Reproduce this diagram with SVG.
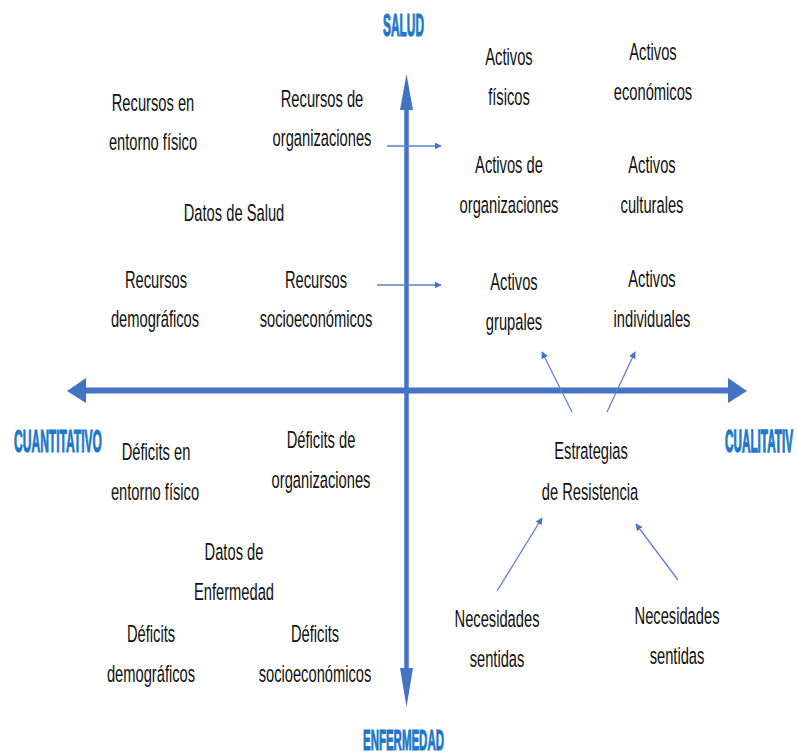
<svg xmlns="http://www.w3.org/2000/svg" width="797" height="755" viewBox="0 0 797 755">
<style>
.t{font-family:"Liberation Sans",Arial,sans-serif;font-size:14.7px;fill:#111;text-anchor:middle}
.ax{font-family:"Liberation Sans",Arial,sans-serif;font-weight:bold;font-size:13px;fill:#1f77c9;stroke:#1f77c9;stroke-width:0.5}
.axis{stroke:#4472c4;fill:none}
.head{fill:#4472c4}
.thin{stroke:#5a82cc;stroke-width:1.3;fill:none;marker-end:url(#ah)}
</style>
<defs>
<marker id="ah" viewBox="0 0 10 10" refX="9" refY="5" markerWidth="7" markerHeight="7" orient="auto" markerUnits="userSpaceOnUse">
<path d="M0,0 L10,5 L0,10 z" fill="#4472c4"/>
</marker>
</defs>
<rect width="797" height="755" fill="#fff"/>
<g id="connectors">
<line class="axis" x1="406.5" y1="105" x2="406.5" y2="672" stroke-width="4.5"/>
<polygon class="head" points="406.5,74 413,110 400,110"/>
<polygon class="head" points="406.5,707 400,668 413,668"/>
<line class="axis" x1="82" y1="390.5" x2="731" y2="390.5" stroke-width="6"/>
<polygon class="head" points="67,391 86,378 86,403"/>
<polygon class="head" points="747,391 728,378 728,403"/>
<line class="thin" x1="387" y1="146" x2="441" y2="146"/>
<line class="thin" x1="377" y1="285" x2="441" y2="285"/>
<line class="thin" x1="572" y1="412" x2="542" y2="352"/>
<line class="thin" x1="607" y1="412" x2="635" y2="352"/>
<line class="thin" x1="497" y1="591" x2="542" y2="518"/>
<line class="thin" x1="678" y1="580" x2="636" y2="524"/>
</g>
<g id="salud"><text class="ax" transform="translate(383,36) scale(1,2.4)" textLength="41" lengthAdjust="spacingAndGlyphs">SALUD</text></g>
<g id="enfermedad"><text class="ax" transform="translate(363,750) scale(1,2.3)" textLength="81" lengthAdjust="spacingAndGlyphs">ENFERMEDAD</text></g>
<g id="cuantitativo"><text class="ax" transform="translate(14,452) scale(1,2.4)" textLength="88" lengthAdjust="spacingAndGlyphs">CUANTITATIVO</text></g>
<g id="cualitativo"><text class="ax" style="font-size:11.4px" transform="translate(725,452) scale(1,2.74)" textLength="68" lengthAdjust="spacingAndGlyphs">CUALITATIV</text></g>
<g id="recursos-entorno"><text class="t" transform="translate(153,111) scale(1,1.6)">Recursos en</text><text class="t" transform="translate(153,150) scale(1,1.6)">entorno físico</text></g>
<g id="recursos-org"><text class="t" transform="translate(322,107) scale(1,1.6)">Recursos de</text><text class="t" transform="translate(322,146) scale(1,1.6)">organizaciones</text></g>
<g id="datos-salud"><text class="t" transform="translate(234,221) scale(1,1.6)">Datos de Salud</text></g>
<g id="recursos-demo"><text class="t" transform="translate(156,288) scale(1,1.6)">Recursos</text><text class="t" transform="translate(155,327) scale(1,1.6)">demográficos</text></g>
<g id="recursos-socio"><text class="t" transform="translate(316,288) scale(1,1.6)">Recursos</text><text class="t" transform="translate(316,327) scale(1,1.6)">socioeconómicos</text></g>
<g id="activos-fisicos"><text class="t" transform="translate(509,65) scale(1,1.6)">Activos</text><text class="t" transform="translate(509,105) scale(1,1.6)">físicos</text></g>
<g id="activos-econ"><text class="t" transform="translate(653,60) scale(1,1.6)">Activos</text><text class="t" transform="translate(653,100) scale(1,1.6)">económicos</text></g>
<g id="activos-org"><text class="t" transform="translate(509,173) scale(1,1.6)">Activos de</text><text class="t" transform="translate(509,213) scale(1,1.6)">organizaciones</text></g>
<g id="activos-cult"><text class="t" transform="translate(652,173) scale(1,1.6)">Activos</text><text class="t" transform="translate(652,213) scale(1,1.6)">culturales</text></g>
<g id="activos-grup"><text class="t" transform="translate(514,290) scale(1,1.6)">Activos</text><text class="t" transform="translate(514,330) scale(1,1.6)">grupales</text></g>
<g id="activos-ind"><text class="t" transform="translate(652,287) scale(1,1.6)">Activos</text><text class="t" transform="translate(652,327) scale(1,1.6)">individuales</text></g>
<g id="deficits-entorno"><text class="t" transform="translate(156,460) scale(1,1.6)">Déficits en</text><text class="t" transform="translate(155,500) scale(1,1.6)">entorno físico</text></g>
<g id="deficits-org"><text class="t" transform="translate(321,448) scale(1,1.6)">Déficits de</text><text class="t" transform="translate(321,488) scale(1,1.6)">organizaciones</text></g>
<g id="estrategias"><text class="t" transform="translate(591,459) scale(1,1.6)">Estrategias</text><text class="t" transform="translate(590,500) scale(1,1.6)">de Resistencia</text></g>
<g id="datos-enf"><text class="t" transform="translate(234,560) scale(1,1.6)">Datos de</text><text class="t" transform="translate(234,600) scale(1,1.6)">Enfermedad</text></g>
<g id="deficits-demo"><text class="t" transform="translate(151,642) scale(1,1.6)">Déficits</text><text class="t" transform="translate(151,682) scale(1,1.6)">demográficos</text></g>
<g id="deficits-socio"><text class="t" transform="translate(315,642) scale(1,1.6)">Déficits</text><text class="t" transform="translate(315,682) scale(1,1.6)">socioeconómicos</text></g>
<g id="necesidades-1"><text class="t" transform="translate(497,627) scale(1,1.6)">Necesidades</text><text class="t" transform="translate(497,667) scale(1,1.6)">sentidas</text></g>
<g id="necesidades-2"><text class="t" transform="translate(677,624) scale(1,1.6)">Necesidades</text><text class="t" transform="translate(677,664) scale(1,1.6)">sentidas</text></g>
</svg>
